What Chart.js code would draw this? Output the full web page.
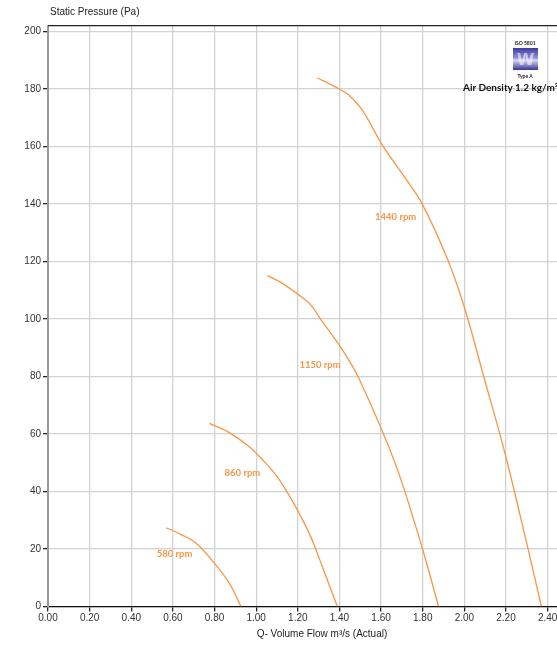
<!DOCTYPE html>
<html>
<head>
<meta charset="utf-8">
<script src="https://cdn.jsdelivr.net/npm/chart.js@4"></script>
<style>
    body { margin: 0; overflow: hidden; background: #fff; }
    #wrap { position: relative; width: 600px; height: 648px; }
    #y-title { position: absolute; left: 50px; top: 6px; font: 10px "Liberation Sans", Arial, sans-serif; color: #222; }
    #x-title { position: absolute; left: 222px; top: 628px; width: 200px; text-align: center; font: 10px "Liberation Sans", Arial, sans-serif; color: #222; }
    #iso { position: absolute; left: 505px; top: 40px; width: 40px; text-align: center; font: bold 5px Lato, sans-serif; color: #222; }
    #logo { position: absolute; left: 513px; top: 48px; width: 25px; height: 22px;
            background: linear-gradient(to bottom, #3f3a9c 0%, #8f8fd8 45%, #d8d8f4 55%, #3a3690 100%); }
    #logo span { position: absolute; left: 0; top: 2px; width: 25px; text-align: center; font: bold 16px "DejaVu Sans", sans-serif; color: rgba(255,255,255,0.55); }
    #typea { position: absolute; left: 505px; top: 73px; width: 40px; text-align: center; font: bold 5px Lato, sans-serif; color: #222; }
    #density { position: absolute; left: 463px; top: 81px; white-space: nowrap; font: bold 10px Lato, sans-serif; color: #111; }
</style>
</head>
<body>
<div id="wrap">
    <canvas id="fan-chart" width="600" height="648"></canvas>
    <div id="y-title">Static Pressure (Pa)</div>
    <div id="x-title">Q- Volume Flow m³/s (Actual)</div>
    <div id="iso">ISO 5801</div>
    <div id="logo"><span>W</span></div>
    <div id="typea">Type A</div>
    <div id="density">Air Density 1.2 kg/m³</div>
</div>
<script>
// ─── Curve data ──────────────────────────────────────────────────────────────

var flow580 = [0.568, 0.64, 0.712, 0.80, 0.871, 0.927];
var pres580 = [27.4, 25.0, 22.0, 15.0, 8.1, 0];

var flow860 = [0.776, 0.863, 0.967, 1.039, 1.095, 1.143, 1.198, 1.262, 1.318, 1.39];
var pres860 = [63.7, 60.8, 55.6, 50.4, 45.7, 40.5, 33.6, 24.3, 13.8, 0];

var flow1150 = [1.054, 1.126, 1.206, 1.262, 1.310, 1.398, 1.445, 1.493, 1.597, 1.685, 1.796, 1.876];
var pres1150 = [115.1, 112.4, 108.3, 104.9, 99.9, 91.0, 85.7, 79.4, 62.5, 46.3, 20.8, 0];

var flow1440 = [1.294, 1.401, 1.445, 1.509, 1.61, 1.70, 1.796, 1.924, 2.004, 2.091, 2.195, 2.307, 2.370];
var pres1440 = [183.9, 179.9, 177.9, 172.7, 160.0, 150.7, 140.2, 119.9, 103.1, 80.5, 53.3, 19.7, 0];

var speedLabels = ['580 rpm', '860 rpm', '1150 rpm', '1440 rpm'];
var labelFlow   = [0.608, 0.934, 1.307, 1.67];
var labelPres   = [18.3, 46.4, 84.0, 135.5];

var pressureTicks = [0, 20, 40, 60, 80, 100, 120, 140, 160, 180, 200];

var ORANGE = '#F79646';

function pts(xs, ys) {
    return xs.map((x, i) => ({ x: x, y: ys[i] }));
}

function curve(xs, ys) {
    return {
        data: pts(xs, ys),
        borderColor: ORANGE,
        borderWidth: 1.3,
        pointRadius: 0,
        showLine: true,
        tension: 0.35
    };
}

// ─── Plugins: rpm labels + top frame line ────────────────────────────────────

var rpmLabels = {
    id: 'rpmLabels',
    afterDatasetsDraw(chart) {
        const { ctx, scales } = chart;
        ctx.save();
        ctx.font = 'bold 9.5px Lato, sans-serif';
        ctx.fillStyle = ORANGE;
        ctx.textAlign = 'center';
        ctx.textBaseline = 'middle';
        speedLabels.forEach((t, i) => {
            ctx.fillText(t, scales.x.getPixelForValue(labelFlow[i]), scales.y.getPixelForValue(labelPres[i]));
        });
        ctx.restore();
    }
};

var topFrame = {
    id: 'topFrame',
    afterDraw(chart) {
        const { ctx, chartArea } = chart;
        ctx.save();
        ctx.strokeStyle = '#222';
        ctx.lineWidth = 1.2;
        ctx.beginPath();
        ctx.moveTo(chartArea.left, chartArea.top);
        ctx.lineTo(chartArea.right, chartArea.top);
        ctx.stroke();
        ctx.restore();
    }
};

// ─── Chart ───────────────────────────────────────────────────────────────────

var tickFont = { family: '"Liberation Sans", Arial, sans-serif', size: 10 };

new Chart(document.getElementById('fan-chart'), {
    type: 'scatter',
    data: {
        datasets: [
            curve(flow580, pres580),
            curve(flow860, pres860),
            curve(flow1150, pres1150),
            curve(flow1440, pres1440)
        ]
    },
    options: {
        responsive: false,
        animation: false,
        layout: { padding: { top: 25.7, right: 9, left: 0, bottom: 0 } },
        plugins: { legend: { display: false }, tooltip: { enabled: false } },
        scales: {
            x: {
                type: 'linear', min: 0, max: 2.6,
                afterFit(s) { s.height = 41.5; },
                afterBuildTicks(s) { s.ticks = s.ticks.filter(t => Math.abs(t.value * 5 - Math.round(t.value * 5)) < 1e-6); },
                ticks: { stepSize: 0.2, color: '#333', font: tickFont, padding: 1, maxRotation: 0,
                         callback: v => v.toFixed(2) },
                grid: { color: '#d2d2d2', lineWidth: 1.3, tickColor: '#222', tickLength: 5 },
                border: { color: '#111', width: 1.3 }
            },
            y: {
                type: 'linear', min: 0, max: 202,
                afterFit(s) { s.width = 48; },
                afterBuildTicks(s) { s.ticks = pressureTicks.map(v => ({ value: v })); },
                ticks: { color: '#333', font: tickFont, padding: 2 },
                grid: { color: '#d2d2d2', lineWidth: 1.3, tickColor: '#222', tickLength: 5 },
                border: { color: '#999', width: 2 }
            }
        }
    },
    plugins: [rpmLabels, topFrame]
});
</script>
</body>
</html>
